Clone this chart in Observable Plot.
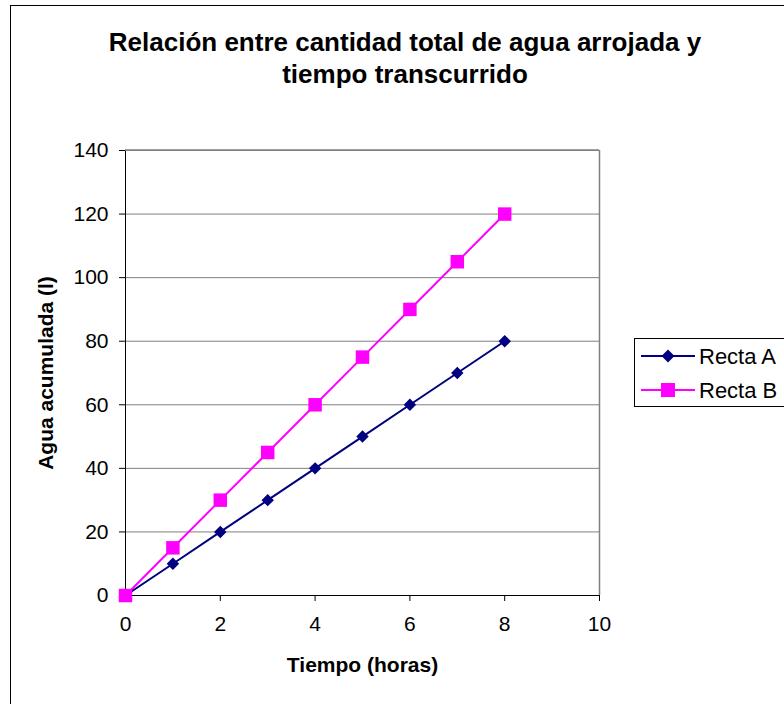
<!DOCTYPE html>
<html>
<head>
<meta charset="utf-8">
<script src="https://cdn.jsdelivr.net/npm/d3@7"></script>
<script src="https://cdn.jsdelivr.net/npm/@observablehq/plot@0.6"></script>
<style>
  html, body { margin: 0; padding: 0; background: #fff; overflow: hidden; }
  #chart { width: 784px; height: 704px; }
</style>
</head>
<body>
<div id="chart"></div>
<script>
const horas = [0, 1, 2, 3, 4, 5, 6, 7, 8];
const rectaA = [0, 10, 20, 30, 40, 50, 60, 70, 80];
const rectaB = [0, 15, 30, 45, 60, 75, 90, 105, 120];
const seriesNames = ["Recta A", "Recta B"];
const xTicks = [0, 2, 4, 6, 8, 10];
const yTicks = [0, 20, 40, 60, 80, 100, 120, 140];
const titleLines = ["Relación entre cantidad total de agua arrojada y", "tiempo transcurrido"];
const xLabel = "Tiempo (horas)";
const yLabel = "Agua acumulada (l)";

const dataA = horas.map((h, i) => ({x: h, y: rectaA[i], s: seriesNames[0]}));
const dataB = horas.map((h, i) => ({x: h, y: rectaB[i], s: seriesNames[1]}));

const font = "Liberation Sans, Arial, sans-serif";
const navy = "#000080";
const magenta = "#FF00FF";

const chart = Plot.plot({
  width: 784,
  height: 704,
  marginLeft: 125,
  marginRight: 185,
  marginTop: 150,
  marginBottom: 109,
  style: {fontFamily: font, fontSize: "21px", background: "#fff", color: "#000"},
  x: {domain: [0, 10], ticks: xTicks},
  y: {domain: [0, 140], ticks: yTicks},
  marks: [
    Plot.gridY(yTicks.filter(d => d > 0), {stroke: "#808080", strokeOpacity: 1, strokeWidth: 1}),
    Plot.ruleX([10], {stroke: "#808080", strokeWidth: 1.5}),
    Plot.axisX({ticks: xTicks, tickSize: 6, tickPadding: 15, label: null, fontSize: 21, stroke: "#000"}),
    Plot.axisY({ticks: yTicks, tickSize: 6, tickPadding: 11, label: null, fontSize: 21, stroke: "#000"}),
    Plot.ruleY([0], {stroke: "#000", strokeWidth: 1}),
    Plot.ruleX([0], {stroke: "#000", strokeWidth: 1}),
    Plot.line(dataB, {x: "x", y: "y", stroke: magenta, strokeWidth: 2}),
    Plot.line(dataA, {x: "x", y: "y", stroke: navy, strokeWidth: 2}),
    Plot.dot(dataA, {x: "x", y: "y", symbol: "diamond2", r: 5.6, fill: navy, stroke: "none"}),
    Plot.dot(dataB, {x: "x", y: "y", symbol: "square", r: 7.6, fill: magenta, stroke: "none"}),
    Plot.text([xLabel], {frameAnchor: "bottom", lineAnchor: "middle", textAnchor: "middle", dy: 70, fontWeight: "bold", fontSize: 21, fill: "#000"}),
    Plot.text([yLabel], {frameAnchor: "left", lineAnchor: "middle", textAnchor: "middle", dx: -79, rotate: -90, fontWeight: "bold", fontSize: 21, fill: "#000"})
  ]
});

const svg = d3.select(chart);
// outer chart-area border
svg.insert("rect", ":first-child")
  .attr("x", 10.5).attr("y", 5.5).attr("width", 800).attr("height", 720)
  .attr("fill", "#fff").attr("stroke", "#000").attr("stroke-width", 1);

// top border of plot area (gray)
svg.append("line").attr("x1", 125).attr("x2", 599).attr("y1", 150).attr("y2", 150)
  .attr("stroke", "#808080").attr("stroke-width", 1.5);

// title
const title = svg.append("text")
  .attr("text-anchor", "middle")
  .attr("font-family", font).attr("font-size", 26).attr("font-weight", "bold").attr("fill", "#000");
titleLines.forEach((t, i) => {
  title.append("tspan").attr("x", 405).attr("y", 51 + i * 32).text(t);
});

// legend
const lg = svg.append("g");
lg.append("rect").attr("x", 634.5).attr("y", 338.5).attr("width", 200).attr("height", 68)
  .attr("fill", "#fff").attr("stroke", "#000").attr("stroke-width", 1);
const items = [
  {name: seriesNames[0], color: navy, sym: "diamond"},
  {name: seriesNames[1], color: magenta, sym: "square"}
];
items.forEach((it, i) => {
  const cy = 356 + i * 34;
  lg.append("line").attr("x1", 641).attr("x2", 695).attr("y1", cy).attr("y2", cy)
    .attr("stroke", it.color).attr("stroke-width", 2);
  if (it.sym === "diamond") {
    lg.append("path").attr("d", `M668,${cy-6.5}L674.5,${cy}L668,${cy+6.5}L661.5,${cy}Z`).attr("fill", it.color);
  } else {
    lg.append("rect").attr("x", 661).attr("y", cy - 7).attr("width", 14).attr("height", 14).attr("fill", it.color);
  }
  lg.append("text").attr("x", 699).attr("y", cy + 7.5).attr("text-anchor", "start")
    .attr("font-family", font).attr("font-size", 22).attr("fill", "#000").text(it.name);
});

document.getElementById("chart").appendChild(chart);
</script>
</body>
</html>
